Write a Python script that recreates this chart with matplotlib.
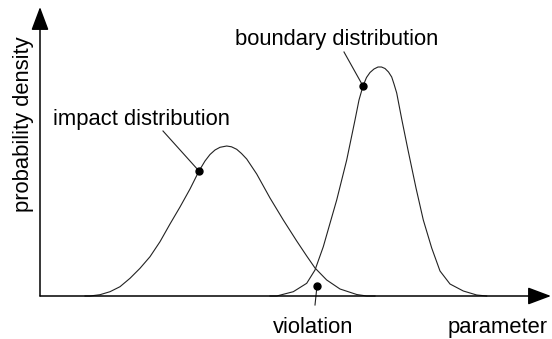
import numpy as np
import matplotlib.pyplot as plt

# curves (parameter, density), arbitrary units
impact_x = [45, 50, 60, 70, 80, 90, 100, 110, 120, 130, 140, 150, 159, 165, 170, 175,
            180, 186.7, 191.5, 196.7, 201.5, 206.7, 216.7, 230, 243.3, 256.7, 266.7,
            275, 286.7, 300, 316.7, 326.7, 335]
impact_y = [0, 0, 1.3, 4.3, 9.3, 17.7, 27.7, 39.3, 54.3, 72, 89, 107, 125, 135, 141.5, 146,
            148.7, 150, 149.2, 146.7, 142.5, 137, 122, 98, 76, 55, 40,
            28, 16, 7, 1.5, 0, 0]

boundary_x = [230, 236.7, 253.3, 266.7, 275, 283.3, 290, 296.7, 306.7, 315, 319, 323,
              326.5, 330, 334, 338, 341.5, 345, 348.5, 351.7, 354, 356.7, 359, 361.7,
              368, 376, 383.3, 391.7, 400, 410, 423.3, 436.7, 446.7]
boundary_y = [0, 0, 4.3, 12.7, 26, 49.3, 72.7, 96, 136, 176, 196, 210,
              218.5, 223.5, 227, 229, 229, 227.5, 224, 219, 212, 203, 191, 177,
              146, 108, 76, 48, 25, 12, 5, 1, 0]

# marked points on the curves
impact_pt = (159, 125)
boundary_pt = (323, 210)
violation_pt = (277, 10)

plt.rcParams['font.family'] = ['Liberation Sans', 'DejaVu Sans']
fs = 15.8
ink = '#222222'

fig = plt.figure(figsize=(5.52, 3.39), dpi=100)
ax = fig.add_axes([0, 0, 1, 1])
ax.set_xlim(-40, 512)
ax.set_ylim(-43, 296)
ax.axis('off')

# axes with arrow heads
arr = dict(arrowstyle='-|>,head_length=0.4,head_width=0.15', mutation_scale=36,
           lw=1.1, color='k', shrinkA=0, shrinkB=0)
ax.annotate('', xy=(0, 289), xytext=(0, 0), arrowprops=arr)
ax.annotate('', xy=(511, 0), xytext=(0, 0), arrowprops=arr)

ax.plot(impact_x, impact_y, color=ink, lw=0.8, solid_joinstyle='round')
ax.plot(boundary_x, boundary_y, color=ink, lw=0.8, solid_joinstyle='round')

# leaders + dots
ax.plot([123, impact_pt[0]], [165, impact_pt[1]], color=ink, lw=0.8)
ax.plot([304, boundary_pt[0]], [244, boundary_pt[1]], color=ink, lw=0.8)
ax.plot([275, violation_pt[0]], [-9, violation_pt[1]], color=ink, lw=0.8)
for p in (impact_pt, boundary_pt, violation_pt):
    ax.plot(*p, 'o', color='k', ms=5)

ax.text(13, 171, 'impact distribution', fontsize=fs, va='baseline', ha='left')
ax.text(195, 251, 'boundary distribution', fontsize=fs, va='baseline', ha='left')
ax.text(273, -37, 'violation', fontsize=fs, va='baseline', ha='center')
ax.text(458, -37, 'parameter', fontsize=fs, va='baseline', ha='center')
ax.text(-16, 172, 'probability density', fontsize=fs, rotation=90,
        va='center', ha='center')

fig.savefig('out.png', dpi=100)
